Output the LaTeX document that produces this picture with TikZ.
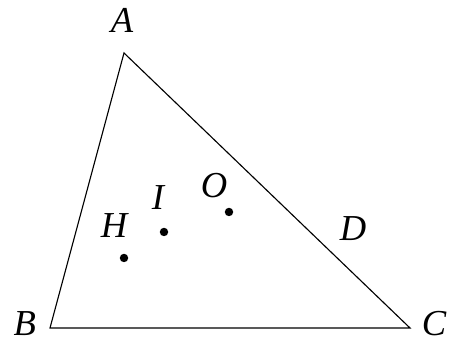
\documentclass[tikz,border=0pt]{standalone}
\usepackage{fontspec}
\setmainfont{Liberation Serif}
\usetikzlibrary{calc,positioning}

\begin{document}
\begin{tikzpicture}[x=0.5cm, y=0.5cm, font=\fontsize{13}{15}\selectfont\itshape,
    pt/.style={circle, fill, inner sep=0pt, minimum size=3pt}]

\useasboundingbox (0,0) rectangle (11.3,8.5);

\coordinate (A) at (3.1,7.175);
\coordinate (B) at (1.25,0.3);
\coordinate (C) at (10.25,0.3);

\draw[thin] (A) -- (B) -- (C) -- cycle;

\node[pt] (H) at (3.1,2.05) {};
\node[pt] (I) at (4.1,2.7) {};
\node[pt] (O) at (5.725,3.2) {};

\node (lA) at (3.05,8.0) {A};
\node (lB) at (0.62,0.4) {B};
\node (lC) at (10.85,0.42) {C};
\node (lD) at (8.825,2.775) {D};
\node (lH) at (2.85,2.85) {H};
\node (lI) at (3.95,3.55) {I};
\node (lO) at (5.35,3.85) {O};

\end{tikzpicture}
\end{document}
